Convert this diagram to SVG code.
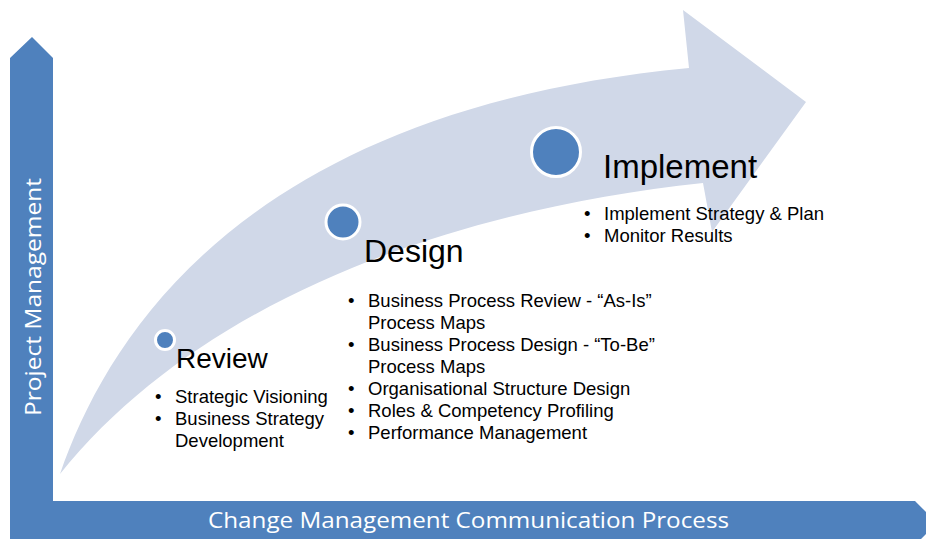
<svg xmlns="http://www.w3.org/2000/svg" width="926" height="539" viewBox="0 0 926 539">
<style>
.axis{fill:#4F81BD}
.band{fill:#D0D8E8}
.dot{fill:#4F81BD;stroke:#FFFFFF;stroke-width:3}
.ax{font-family:"Open Sans","Noto Sans",sans-serif;font-size:22px;fill:#FFFFFF}
.h{font-family:"Liberation Sans",Arial,sans-serif;fill:#000000}
.b{font-family:"Liberation Sans",Arial,sans-serif;font-size:18.5px;fill:#000000}
</style>
<rect width="926" height="539" fill="#FFFFFF"/>
<g id="axes">
<polygon class="axis" points="10,58 32,37 53,58 53,501 915,501 937,523 915,545 10,545"/>
<text class="ax" x="208" y="528" textLength="521" lengthAdjust="spacingAndGlyphs">Change Management Communication Process</text>
<text class="ax" transform="translate(41,416) rotate(-90)" x="0" y="0" textLength="238" lengthAdjust="spacingAndGlyphs">Project Management</text>
</g>
<g id="connectors">
<path class="band" d="M60,474 C110,330 250,110 689,68 L683,10 L806,102 L712,232 L703,183 C450,210 200,300 60,474 Z"/>
</g>
<g id="review">
<circle class="dot" cx="165" cy="340" r="9.5"/>
<text class="h" x="176" y="368" font-size="28">Review</text>
<text class="b" x="155" y="403">•</text>
<text class="b" x="175" y="403">Strategic Visioning</text>
<text class="b" x="155" y="425">•</text>
<text class="b" x="175" y="425">Business Strategy</text>
<text class="b" x="175" y="447">Development</text>
</g>
<g id="design">
<circle class="dot" cx="343" cy="222" r="17"/>
<text class="h" x="364" y="262" font-size="32">Design</text>
<text class="b" x="348" y="307">•</text>
<text class="b" x="368" y="307">Business Process Review - “As-Is”</text>
<text class="b" x="368" y="329">Process Maps</text>
<text class="b" x="348" y="351">•</text>
<text class="b" x="368" y="351">Business Process Design - “To-Be”</text>
<text class="b" x="368" y="373">Process Maps</text>
<text class="b" x="348" y="395">•</text>
<text class="b" x="368" y="395">Organisational Structure Design</text>
<text class="b" x="348" y="417">•</text>
<text class="b" x="368" y="417">Roles &amp; Competency Profiling</text>
<text class="b" x="348" y="439">•</text>
<text class="b" x="368" y="439">Performance Management</text>
</g>
<g id="implement">
<circle class="dot" cx="556" cy="152" r="24.5"/>
<text class="h" x="603" y="178" font-size="33">Implement</text>
<text class="b" x="584" y="220">•</text>
<text class="b" x="604" y="220">Implement Strategy &amp; Plan</text>
<text class="b" x="584" y="242">•</text>
<text class="b" x="604" y="242">Monitor Results</text>
</g>
</svg>
